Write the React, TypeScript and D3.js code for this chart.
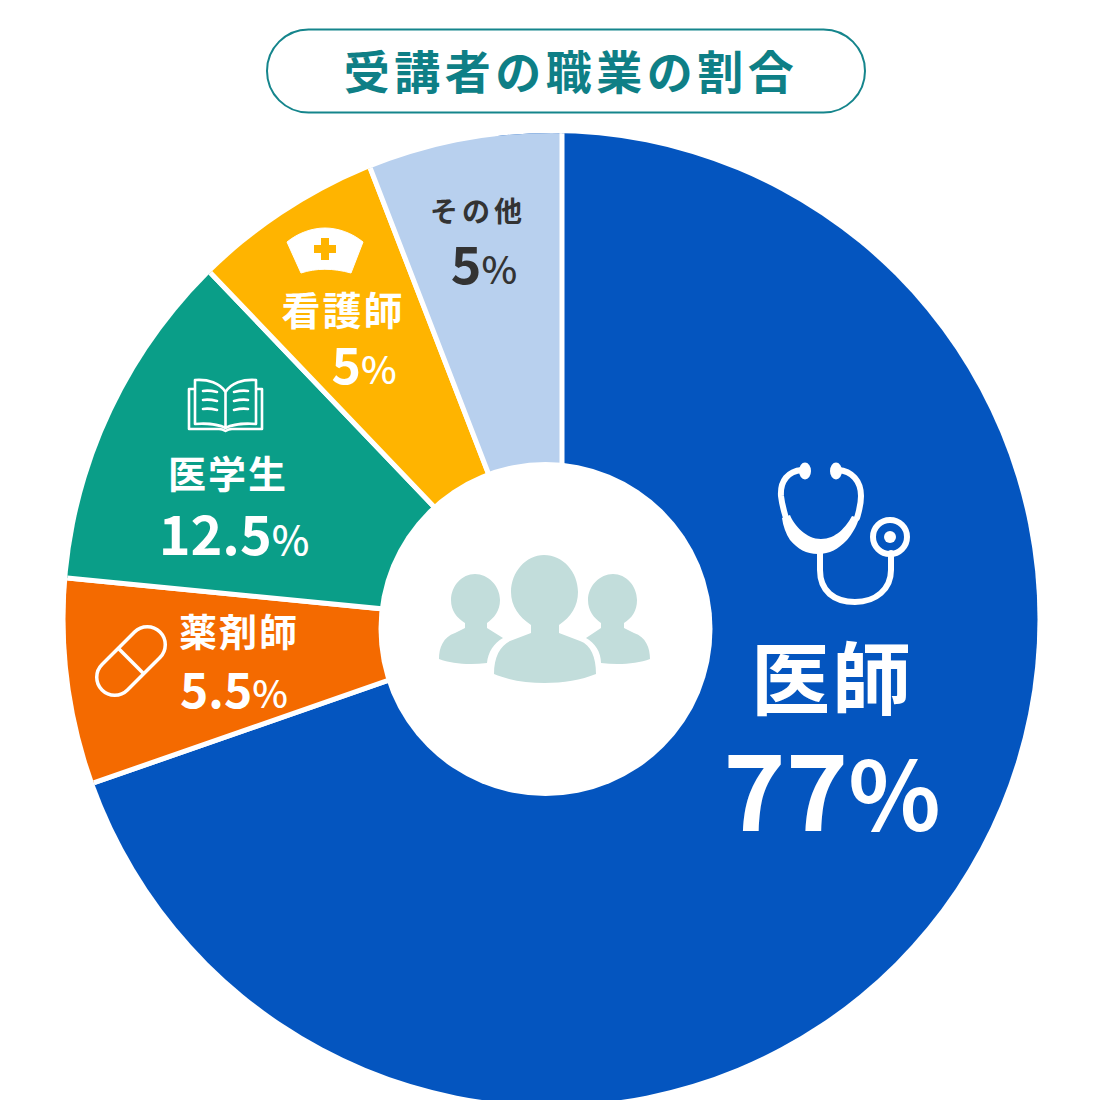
import React from "react";
import * as d3 from "d3";

const title = "受講者の職業の割合";
const categories = ["医師", "薬剤師", "医学生", "看護師", "その他"];
// Shares as drawn (degrees of sweep, clockwise from the top)
const drawnSweep = [250.8, 24.8, 40.7, 22.55, 21.15];
// Numbers printed on the chart
const printedNumbers = ["77", "5.5", "12.5", "5", "5"];
const sliceColors = ["#0455BF", "#F46A00", "#0A9E88", "#FFB400", "#B8D0EE"];

const FONT = '"Noto Sans CJK JP", "Noto Sans", sans-serif';

const Label = ({ x, y, name, num, size, numSize, pctSize, fill, gap = 0, numY, nameX, numX, pctWeight = 500 }: any) => (
  <g fill={fill} fontFamily={FONT} textAnchor="middle">
    <text x={nameX ?? x} y={y} fontSize={size} fontWeight={700} letterSpacing={gap}>{name}</text>
    <text x={numX ?? x} y={numY} fontSize={numSize} fontWeight={700}>
      {num}
      <tspan fontSize={pctSize} fontWeight={pctWeight}>%</tspan>
    </text>
  </g>
);

const Stethoscope = () => (
  <g fill="none" stroke="#fff" strokeLinecap="round">
    <path d="M802 470C788 471 780 481 781 496C782 505 784 511 786 518" strokeWidth={6} />
    <path d="M838 470C852 471 861 481 861 496C861 505 859 511 857 518" strokeWidth={6} />
    <ellipse cx={805} cy={471} rx={6} ry={8.500} fill="#fff" stroke="none" />
    <ellipse cx={836} cy={471} rx={6} ry={8.500} fill="#fff" stroke="none" />
    <path d="M782 518L790 515C794 525 806 539 821 539C836 539 846 527 852 516L859 518C857 526 852 534 847 540C838 549 830 554 818 554C806 554 798 549 790 540C786 534 783 526 782 518Z" fill="#fff" stroke="none" />
    <path d="M820 550V570C820 591 834 602 855 602C876 602 891 589 891 570V553" strokeWidth={6} />
    <circle cx={890} cy={537} r={17} strokeWidth={6} />
    <circle cx={890} cy={537} r={6} fill="#fff" stroke="none" />
  </g>
);

const Book = () => (
  <g fill="none" stroke="#fff" strokeWidth={2.600} strokeLinejoin="round" strokeLinecap="round">
    <path d="M194 389H189V429H219C222 429 224 430 225.500 431C227 430 229 429 232 429H262V389H257" />
    <path d="M225.500 392C220 383 208 379 195 380V424C208 423 220 425 225.500 428C231 425 243 423 256 424V380C243 379 231 383 225.500 392V428" />
    <path d="M203 391C208 390 213 391 217 392M203 400C208 399 213 400 217 401M203 409C208 408 213 409 217 410M234 392C238 391 243 390 248 391M234 401C238 400 243 399 248 400M234 410C238 409 243 408 248 409" />
  </g>
);

const Cap = () => (
  <g>
    <path d="M287 242C298 233 312 228 325 228C338 228 352 233 363 242L351 273C333 268 316 268 301 273Z" fill="#fff" stroke="#fff" strokeWidth={1} strokeLinejoin="round" />
    <path d="M321 238H329V245H336V253H329V260H321V253H314V245H321Z" fill="#FFB400" />
  </g>
);

const Pill = () => (
  <g transform="translate(131 661) rotate(-45)" fill="none" stroke="#fff" strokeWidth={3.500}>
    <rect x={-41} y={-18} width={82} height={36} rx={18} />
    <path d="M0 -18L0 18" />
  </g>
);

const Person = ({ d }: { d: string }) => <path d={d} fill="#C2DDDB" />;

const People = () => (
  <g>
    <Person d="M475 574C488 574 500 586 500 600C500 611 494 618 487 623V628L503 638C494 643 488 652 487 663C470 665 452 664 439 659C439 648 443 637 455 633L465 628V623C457 618 451 611 451 600C451 586 462 574 475 574Z" />
    <Person d="M613 574C600 574 588 586 588 600C588 611 594 618 601 623V628L586 638C595 643 601 652 601 663C618 665 637 664 650 659C650 648 646 637 634 633L624 628V623C632 618 637 611 637 600C637 586 626 574 613 574Z" />
    <Person d="M544 555C563 555 578 572 578 592C578 606 571 617 559 625V633L580 641C591 645 596 657 596 674C567 686 522 686 494 674C494 657 500 646 510 641L531 633V625C519 617 511 606 511 592C511 572 526 555 544 555Z" />
  </g>
);

export default function App() {
  const overlap = (6 * Math.PI) / 180;
  const pie = d3.pie<number>().sort(null).value((d) => d)(drawnSweep);
  const arc = d3.arc<any>().innerRadius(0).outerRadius(640);
  const lastIndex = pie.length - 1;
  const apex: [number, number] = [547, 625];

  const sliceD = (p: d3.PieArcDatum<number>, i: number) =>
    arc({
      startAngle: i === 0 ? p.startAngle - overlap : p.startAngle,
      endAngle: i === lastIndex ? p.endAngle + overlap : p.endAngle,
    }) ?? "";

  return (
    <svg width={1100} height={1100} viewBox="0 0 1100 1100" style={{ position: "absolute", left: 0, top: 0, background: "#fff" }}>
      <defs>
        <clipPath id="disc">
          <circle cx={551.500} cy={619} r={486} />
        </clipPath>
        <clipPath id="lastEdge">
          <rect x={-600} y={-700} width={615} height={1400} />
        </clipPath>
      </defs>
      <rect x={267} y={29.500} width={598} height={83} rx={41.500} fill="#fff" stroke="#15858C" strokeWidth={2} />
      <text x={571} y={89} textAnchor="middle" fontFamily={FONT} fontWeight={700} fontSize={46} letterSpacing={4.500} fill="#0E7F86">{title}</text>

      <g clipPath="url(#disc)">
        <g transform={`translate(${apex[0]} ${apex[1]})`}>
          {pie.map((p, i) => (
            <path
              key={categories[i]}
              d={sliceD(p, i)}
              fill={sliceColors[i]}
              stroke="#fff"
              strokeWidth={5}
              clipPath={i === lastIndex ? "url(#lastEdge)" : undefined}
            />
          ))}
          <line x1={15} x2={15} y1={-640} y2={-150} stroke="#fff" strokeWidth={5} />
        </g>
      </g>
      <circle cx={545.500} cy={629} r={167} fill="#fff" />

      <People />
      <Stethoscope />
      <Book />
      <Cap />
      <Pill />

      <Label x={832} y={709} name={categories[0]} num={printedNumbers[0]} size={79} numSize={106} pctSize={96} pctWeight={700} fill="#fff" numY={831} gap={2} />
      <Label x={239} y={646} name={categories[1]} num={printedNumbers[1]} size={38} numSize={48} pctSize={38} fill="#fff" numY={708} numX={234} gap={2} />
      <Label x={228} y={488} name={categories[2]} num={printedNumbers[2]} size={38} numSize={54} pctSize={40} fill="#fff" numY={555} numX={234} gap={2} />
      <Label x={343} y={325} name={categories[3]} num={printedNumbers[3]} size={39} numSize={50} pctSize={38} fill="#fff" numY={384} numX={364} gap={2} />
      <Label x={478} y={222} name={categories[4]} num={printedNumbers[4]} size={28} numSize={52} pctSize={38} fill="#333" numY={284} numX={484} gap={4} />
    </svg>
  );
}
